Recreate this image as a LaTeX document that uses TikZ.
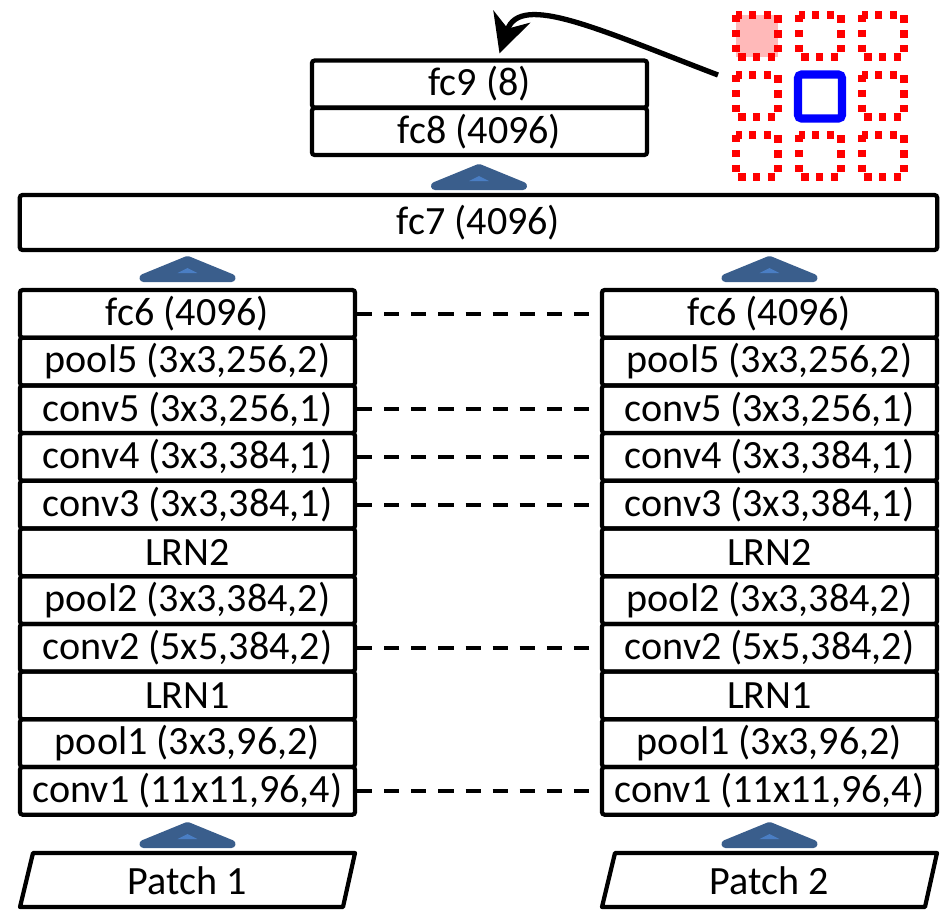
\documentclass[tikz,border=0pt]{standalone}
\usepackage{fontspec}
\setmainfont{Carlito}
\usetikzlibrary{arrows.meta}

\definecolor{arrowblue}{RGB}{58,94,140}
\definecolor{arrowlight}{RGB}{74,126,196}
\definecolor{gridpink}{RGB}{255,185,185}

\begin{document}
\begin{tikzpicture}[x=0.01cm,y=-0.01cm]

	\tikzstyle layer box=[draw, line width=1.2pt, rounded corners=0.8pt, inner sep=0pt, minimum width=3.35cm, minimum height=0.477cm, font=\fontsize{11.4}{13}\selectfont];
	\tikzstyle tie lines=[line width=1.1pt, dash pattern=on 4.3pt off 3.4pt];
	\tikzstyle up arrow=[fill=arrowblue, draw=arrowblue, line width=0.08cm, line join=round];
	\tikzstyle patch lines=[line width=1.2pt, line join=round];
	\tikzstyle red dots=[red, line width=2.1pt, dash pattern=on 2.1pt off 2.1pt];

	\useasboundingbox (0,0) rectangle (941,911);

	% two towers
	\foreach \i/\txt in {1/{fc6 (4096)},2/{pool5 (3x3,256,2)},3/{conv5 (3x3,256,1)},4/{conv4 (3x3,384,1)},5/{conv3 (3x3,384,1)},6/{LRN2},7/{pool2 (3x3,384,2)},8/{conv2 (5x5,384,2)},9/{LRN1},10/{pool1 (3x3,96,2)},11/{conv1 (11x11,96,4)}}
	{
		\node[layer box] (L\i) at (187.5, 290+47.7*\i-23.85) {\txt};
		\node[layer box] (R\i) at (769.5, 290+47.7*\i-23.85) {\txt};
	}

	\foreach \i in {1,3,4,5,8,11}
		\draw[tie lines] (L\i.east) -- (R\i.west);

	% shared layers
	\node[layer box, minimum width=9.17cm, minimum height=0.55cm] (fc7) at (478.5,222.5) {fc7 (4096)};
	\node[layer box, minimum height=0.47cm] (fc8) at (479.5,131.5) {fc8 (4096)};
	\node[layer box, minimum height=0.47cm] (fc9) at (479.5,84) {fc9 (8)};

	% inputs
	\foreach \x/\n in {0/1,582/2}
	{
		\draw[patch lines, xshift=\x*0.01cm] (20,907) -- (33,853) -- (355,853) -- (343,907) -- cycle;
		\node[font=\fontsize{11.4}{13}\selectfont] (patch\n) at (187.5+\x,881) {Patch \n};
	}

	% blue arrows
	\foreach \x/\y in {479/177,187.5/269,769.5/269,187.5/835,769.5/835}
	{
		\filldraw[up arrow, shift={(\x,\y)}] (-44,9) -- (44,9) -- (0,-9) -- cycle;
		\fill[arrowlight, shift={(\x,\y)}] (-10,4) -- (10,4) -- (0,-1) -- cycle;
	}

	% position grid
	\fill[gridpink] (736,15) rectangle (778,57);
	\foreach \cx/\cy in {757/36,820/36,883/36,757/96,883/96,757/156,820/156,883/156}
		\draw[red dots] (\cx-21,\cy-21) rectangle (\cx+21,\cy+21);
	\draw[blue, line width=2.3pt, rounded corners=1pt] (798,74.5) rectangle (842,118.5);

	\coordinate (grid) at (718,75);
	\draw[line width=1.5pt, -{Stealth[length=11pt, width=11pt]}] (grid) .. controls (600,30) and (520,-8) .. ([xshift=0.2cm,yshift=0.05cm]fc9.north);

\end{tikzpicture}
\end{document}
